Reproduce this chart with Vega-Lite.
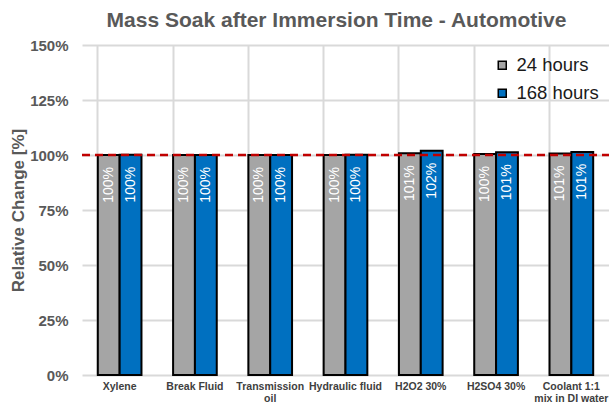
{
  "$schema": "https://vega.github.io/schema/vega-lite/v6.json",
  "width": 527,
  "height": 330,
  "autosize": {"type": "none"},
  "padding": {"left": 82, "top": 45, "right": 0, "bottom": 30},
  "background": "white",
  "config": {
    "font": "Liberation Sans",
    "view": {"stroke": null}
  },
  "title": {
    "text": "Mass Soak after Immersion Time - Automotive",
    "fontSize": 21,
    "fontWeight": "bold",
    "color": "#595959",
    "anchor": "middle",
    "dx": -9,
    "offset": 7
  },
  "data": {
    "values": [
      {"material": "Xylene", "series": "24 hours", "value": 1.000},
      {"material": "Xylene", "series": "168 hours", "value": 1.001},
      {"material": "Break Fluid", "series": "24 hours", "value": 1.000},
      {"material": "Break Fluid", "series": "168 hours", "value": 1.000},
      {"material": "Transmission oil", "series": "24 hours", "value": 1.000},
      {"material": "Transmission oil", "series": "168 hours", "value": 1.000},
      {"material": "Hydraulic fluid", "series": "24 hours", "value": 1.000},
      {"material": "Hydraulic fluid", "series": "168 hours", "value": 1.001},
      {"material": "H2O2 30%", "series": "24 hours", "value": 1.008},
      {"material": "H2O2 30%", "series": "168 hours", "value": 1.019},
      {"material": "H2SO4 30%", "series": "24 hours", "value": 1.004},
      {"material": "H2SO4 30%", "series": "168 hours", "value": 1.012},
      {"material": "Coolant 1:1 mix in DI water", "series": "24 hours", "value": 1.007},
      {"material": "Coolant 1:1 mix in DI water", "series": "168 hours", "value": 1.014}
    ]
  },
  "layer": [
    {
      "mark": {"type": "bar", "stroke": "black", "strokeWidth": 2},
      "encoding": {
        "x": {
          "field": "material",
          "type": "nominal",
          "sort": null,
          "scale": {"paddingInner": 0.42, "paddingOuter": 0.21},
          "axis": {
            "title": null,
            "labelAngle": 0,
            "labelFontSize": 10.5,
            "labelFontWeight": "bold",
            "labelColor": "#404040",
            "labelPadding": 6,
            "labelLimit": 200,
            "labelLineHeight": 12,
            "labelExpr": "datum.value == 'Transmission oil' ? ['Transmission', 'oil'] : datum.value == 'Coolant 1:1 mix in DI water' ? ['Coolant 1:1', 'mix in DI water'] : datum.label",
            "bandPosition": 0,
            "ticks": false,
            "grid": true,
            "gridColor": "#D9D9D9",
            "gridWidth": 2,
            "domain": false
          }
        },
        "xOffset": {"field": "series", "type": "nominal", "sort": ["24 hours", "168 hours"], "scale": {"paddingInner": 0, "paddingOuter": 0}},
        "y": {
          "field": "value",
          "type": "quantitative",
          "scale": {"domain": [0, 1.5], "nice": false},
          "axis": {
            "title": "Relative Change [%]",
            "titleFontSize": 17,
            "titleFontWeight": "bold",
            "titleColor": "#595959",
            "titleX": -64,
            "titleY": 165,
            "titleAngle": -90,
            "titleBaseline": "middle",
            "titleAlign": "center",
            "values": [0, 0.25, 0.5, 0.75, 1, 1.25, 1.5],
            "format": ".0%",
            "labelFontSize": 15,
            "labelFontWeight": "bold",
            "labelColor": "#595959",
            "labelPadding": 14,
            "ticks": false,
            "domain": false,
            "grid": true,
            "gridColor": "#D9D9D9",
            "gridWidth": 2
          }
        },
        "color": {
          "field": "series",
          "type": "nominal",
          "sort": ["24 hours", "168 hours"],
          "scale": {"domain": ["24 hours", "168 hours"], "range": ["#A5A5A5", "#0070C0"]},
          "legend": {
            "title": null,
            "orient": "none",
            "legendX": 411,
            "legendY": 11,
            "padding": 0,
            "symbolType": "square",
            "symbolSize": 64,
            "symbolStrokeColor": "black",
            "symbolStrokeWidth": 1.5,
            "symbolOpacity": 1,
            "labelFontSize": 18.5,
            "labelColor": "#1a1a1a",
            "labelOffset": 5,
            "rowPadding": 9
          }
        }
      }
    },
    {
      "mark": {"type": "text", "angle": -90, "align": "right", "baseline": "middle", "dx": -12, "fontSize": 14, "color": "white"},
      "encoding": {
        "x": {"field": "material", "type": "nominal", "sort": null},
        "xOffset": {"field": "series", "type": "nominal", "sort": ["24 hours", "168 hours"]},
        "y": {"field": "value", "type": "quantitative"},
        "text": {"field": "value", "type": "quantitative", "format": ".0%"}
      }
    },
    {
      "data": {"values": [{"ref": 1}]},
      "mark": {"type": "rule", "color": "#C00000", "strokeWidth": 2.5, "strokeDash": [8, 5]},
      "encoding": {
        "y": {"field": "ref", "type": "quantitative"},
        "x": {"value": 0},
        "x2": {"value": 527}
      }
    }
  ]
}
